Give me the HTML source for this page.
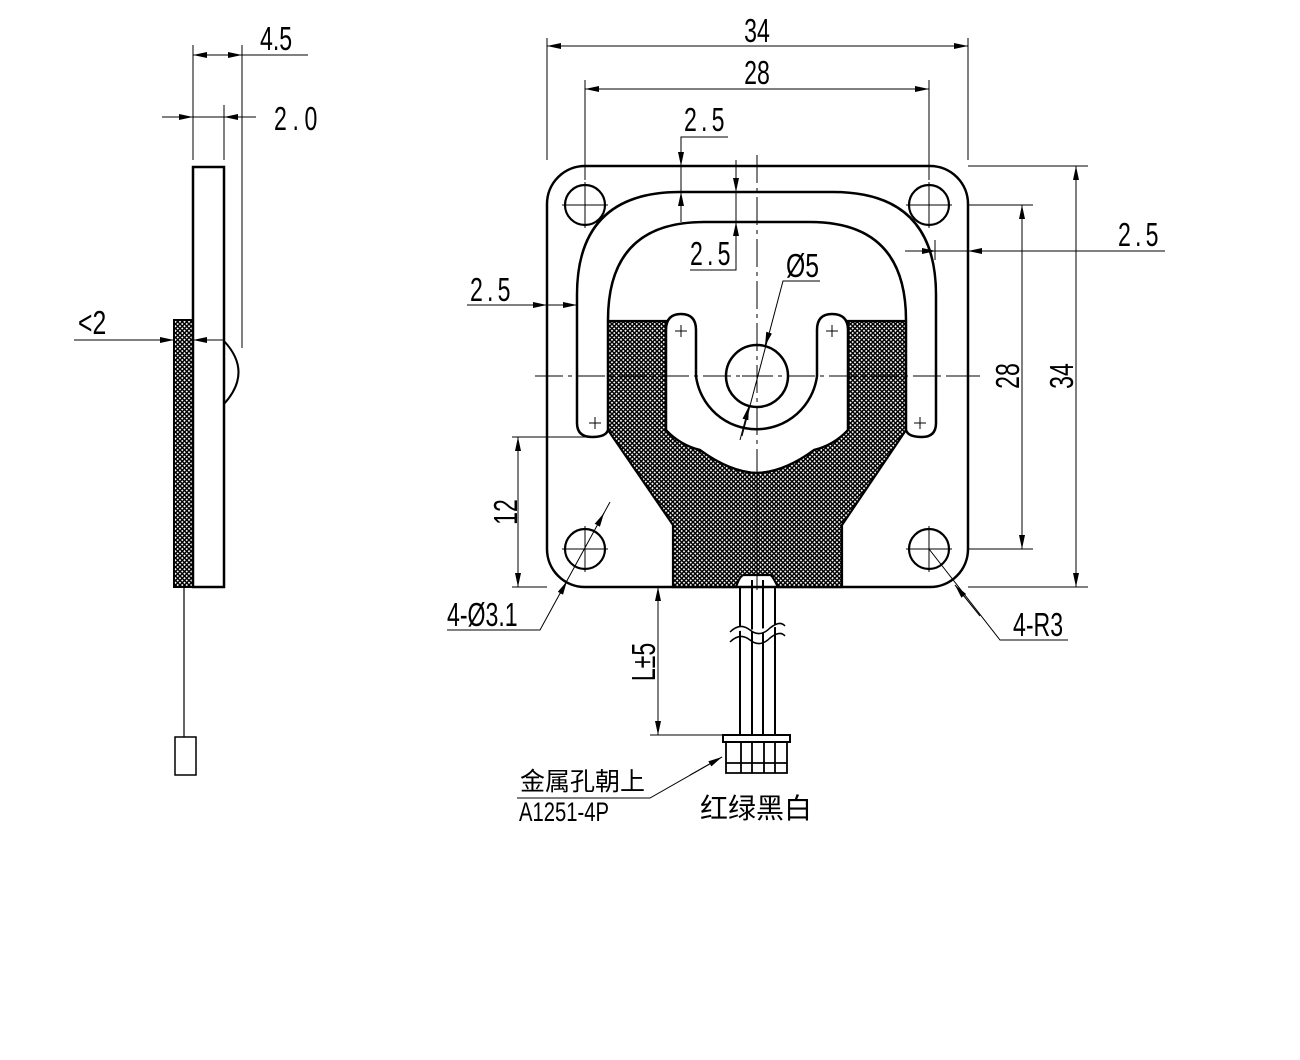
<!DOCTYPE html>
<html><head><meta charset="utf-8"><style>
html,body{margin:0;padding:0;background:#fff;}
svg{display:block;}
text{font-family:"Liberation Sans","Noto Sans CJK SC",sans-serif;fill:#000;}
.d{font-size:33px;}
</style></head><body>
<svg width="1300" height="1060" viewBox="0 0 1300 1060" xmlns="http://www.w3.org/2000/svg">
<defs>
<pattern id="h" width="4.5" height="4.5" patternUnits="userSpaceOnUse">
<rect width="4.5" height="4.5" fill="#fff"/>
<path d="M0 0L4.5 4.5M4.5 0L0 4.5" stroke="#000" stroke-width="1.5"/>
</pattern>
<marker id="a" viewBox="0 0 14 6" refX="14" refY="3" markerWidth="14" markerHeight="6" markerUnits="userSpaceOnUse" orient="auto-start-reverse"><path d="M0 0L14 3L0 6z" fill="#000"/></marker>
</defs>

<!-- ===== Side view ===== -->
<g stroke="#000" fill="none">
<rect x="174" y="320" width="19" height="267" fill="url(#h)" stroke-width="2"/>
<rect x="193" y="167" width="31" height="420" fill="#fff" stroke-width="2.5"/>
<path d="M224 341 Q253 372 224 404" stroke-width="2"/>
<line x1="184" y1="587" x2="184" y2="737" stroke-width="1.2"/>
<rect x="175" y="737" width="21" height="38" stroke-width="1.5"/>
<g stroke-width="1">
<line x1="193" y1="45" x2="193" y2="160"/>
<line x1="242" y1="45" x2="242" y2="348"/>
<line x1="224" y1="105" x2="224" y2="160"/>
<line x1="193" y1="55" x2="242" y2="55" marker-start="url(#a)" marker-end="url(#a)"/>
<line x1="242" y1="55" x2="308" y2="55"/>
<line x1="162" y1="117" x2="193" y2="117" marker-end="url(#a)"/>
<line x1="256" y1="117" x2="224" y2="117" marker-end="url(#a)"/>
<line x1="193" y1="117" x2="224" y2="117"/>
<line x1="74" y1="340" x2="174" y2="340" marker-end="url(#a)"/>
<line x1="224" y1="340" x2="193" y2="340" marker-end="url(#a)"/>
</g>
</g>
<text class="d" transform="translate(260,50) scale(.7,1)">4.5</text>
<text class="d" transform="translate(274,130) scale(.7,1)" letter-spacing="8">2.0</text>
<text class="d" transform="translate(78,334) scale(.75,1)">&lt;2</text>

<!-- ===== Front view ===== -->
<g stroke="#000" fill="none">
<rect x="547" y="166" width="421" height="421" rx="38" ry="38" stroke-width="2.5" fill="#fff"/>
<g stroke-width="2.2">
<circle cx="585" cy="205" r="20"/><circle cx="929" cy="205" r="20"/>
<circle cx="585" cy="549" r="20"/><circle cx="929" cy="549" r="20"/>
</g>
<path d="M608 321 L666 321 L666 430 Q680 445 700 450 Q730 472 757 473 Q784 472 814 450 Q834 445 848 430 L848 321 L906 321 L906 430 L842 525 L842 587 L778 587 Q772 575 770 575 L744 575 Q740 575 736 587 L673 587 L673 525 L608 430 Z" fill="url(#h)" stroke-width="2.2"/>
<line x1="757" y1="473" x2="757" y2="587" stroke-width="1"/>
<path d="M577 423 L577 295 Q577 192 680 192 L833 192 Q936 192 936 295 L936 423 Q936 437 922 437 Q908 437 906 430 L906 320 Q906 222 810 222 L704 222 Q608 222 608 320 L608 430 Q606 437 592 437 Q577 437 577 423 Z" stroke-width="2.5" fill="#fff"/>
<path d="M666 430 L666 330 Q666 314 681 314 Q696 314 696 330 L696 376 A61 61 0 0 0 817 376 L817 330 Q817 314 832 314 Q848 314 848 330 L848 430" stroke-width="2.5" fill="#fff"/>
<path d="M666 430 Q680 445 700 450 Q730 472 757 473 Q784 472 814 450 Q834 445 848 430" stroke-width="2.2"/>
<circle cx="757" cy="376" r="31" stroke-width="2.5"/>
<g stroke-width="1">
<path d="M675 331h12M681 325v12M826 331h12M832 325v12M589 423h12M595 417v12M914 423h12M920 417v12"/>
</g>
<g stroke-width="1">
<path d="M757 155V590" stroke-dasharray="28 5 4 5"/>
<path d="M535 376H980" stroke-dasharray="28 5 4 5"/>
<path d="M562 205h46M585 182v46M906 205h46M929 182v46M562 549h46M585 526v46M906 549h46M929 526v46M742 376h30"/>
</g>
<g stroke-width="2">
<line x1="740" y1="587" x2="740" y2="735"/><line x1="752" y1="580" x2="752" y2="735"/>
<line x1="763" y1="580" x2="763" y2="735"/><line x1="775" y1="587" x2="775" y2="735"/>
</g>
<path d="M730 632 Q740 622 750 630 Q760 638 770 628 Q780 620 785 626" stroke-width="1.5" fill="#fff"/>
<path d="M730 642 Q740 632 750 640 Q760 648 770 638 Q780 630 785 636" stroke-width="1.5"/>
<rect x="723" y="735" width="67" height="7" stroke-width="2" fill="#fff"/>
<path d="M726 742 L726 773 L787 773 L787 742 M741 742V773M752 742V773M764 742V773M775 742V773M726 763H787" stroke-width="1.8"/>
<g stroke-width="1">
<line x1="547" y1="38" x2="547" y2="160"/><line x1="968" y1="38" x2="968" y2="160"/>
<line x1="547" y1="46" x2="968" y2="46" marker-start="url(#a)" marker-end="url(#a)"/>
<line x1="585" y1="80" x2="585" y2="180"/><line x1="929" y1="80" x2="929" y2="180"/>
<line x1="585" y1="89" x2="929" y2="89" marker-start="url(#a)" marker-end="url(#a)"/>
<path d="M728 137H681V166"/>
<line x1="681" y1="150" x2="681" y2="166" marker-end="url(#a)"/>
<line x1="681" y1="222" x2="681" y2="192" marker-end="url(#a)"/>
<line x1="681" y1="192" x2="681" y2="166"/>
<path d="M690 270H736V160"/>
<line x1="736" y1="160" x2="736" y2="192" marker-end="url(#a)"/>
<line x1="736" y1="250" x2="736" y2="222" marker-end="url(#a)"/>
<path d="M820 281H783L742 436"/>
<line x1="769" y1="333" x2="765" y2="346" marker-end="url(#a)"/>
<line x1="740" y1="440" x2="749" y2="406" marker-end="url(#a)"/>
<path d="M467 305H547"/>
<line x1="547" y1="305" x2="577" y2="305" marker-end="url(#a)"/>
<line x1="515" y1="305" x2="547" y2="305" marker-end="url(#a)"/>
<line x1="905" y1="251" x2="1165" y2="251"/>
<line x1="905" y1="251" x2="936" y2="251" marker-end="url(#a)"/>
<line x1="1000" y1="251" x2="968" y2="251" marker-end="url(#a)"/>
<line x1="935" y1="240" x2="935" y2="260"/>
<path d="M968 205H1033M968 549H1033M968 166H1088M968 587H1088"/>
<line x1="1022" y1="205" x2="1022" y2="549" marker-start="url(#a)" marker-end="url(#a)"/>
<line x1="1076" y1="166" x2="1076" y2="587" marker-start="url(#a)" marker-end="url(#a)"/>
<path d="M948 376H980"/>
<path d="M512 437H592M512 587H547"/>
<line x1="518" y1="437" x2="518" y2="587" marker-start="url(#a)" marker-end="url(#a)"/>
<path d="M447 630H540L610 502"/>
<line x1="598" y1="524" x2="604" y2="513" marker-end="url(#a)"/>
<line x1="560" y1="594" x2="567" y2="581" marker-end="url(#a)"/>
<path d="M1068 640H1000L929 549"/>
<line x1="980" y1="616" x2="955" y2="585" marker-end="url(#a)"/>
<path d="M650 735H723"/>
<line x1="658" y1="587" x2="658" y2="735" marker-start="url(#a)" marker-end="url(#a)"/>
<path d="M517 798H650L722 757"/>
<line x1="690" y1="775" x2="722" y2="757" marker-end="url(#a)"/>
</g>
</g>
<text class="d" transform="translate(757,42) scale(.7,1)" text-anchor="middle">34</text>
<text class="d" transform="translate(757,84) scale(.7,1)" text-anchor="middle">28</text>
<text class="d" transform="translate(684,131) scale(.7,1)" letter-spacing="6">2.5</text>
<text class="d" transform="translate(690,265) scale(.7,1)" letter-spacing="6">2.5</text>
<text class="d" transform="translate(786,277) scale(.75,1)">Ø5</text>
<text class="d" transform="translate(470,301) scale(.7,1)" letter-spacing="6">2.5</text>
<text class="d" transform="translate(1118,246) scale(.7,1)" letter-spacing="6">2.5</text>
<text class="d" transform="translate(1019,376) rotate(-90) scale(.7,1)" text-anchor="middle">28</text>
<text class="d" transform="translate(1073,376) rotate(-90) scale(.7,1)" text-anchor="middle">34</text>
<text class="d" transform="translate(517,512) rotate(-90) scale(.7,1)" text-anchor="middle">12</text>
<text class="d" transform="translate(655,662) rotate(-90) scale(.7,1)" text-anchor="middle">L±5</text>
<text class="d" transform="translate(447,626) scale(.7,1)">4-Ø3.1</text>
<text class="d" transform="translate(1013,636) scale(.7,1)">4-R3</text>
<text x="520" y="790" font-size="25">金属孔朝上</text>
<text transform="translate(519,821) scale(.75,1)" font-size="27">A1251-4P</text>
<text x="700" y="818" font-size="28">红绿黑白</text>
</svg>
</body></html>
